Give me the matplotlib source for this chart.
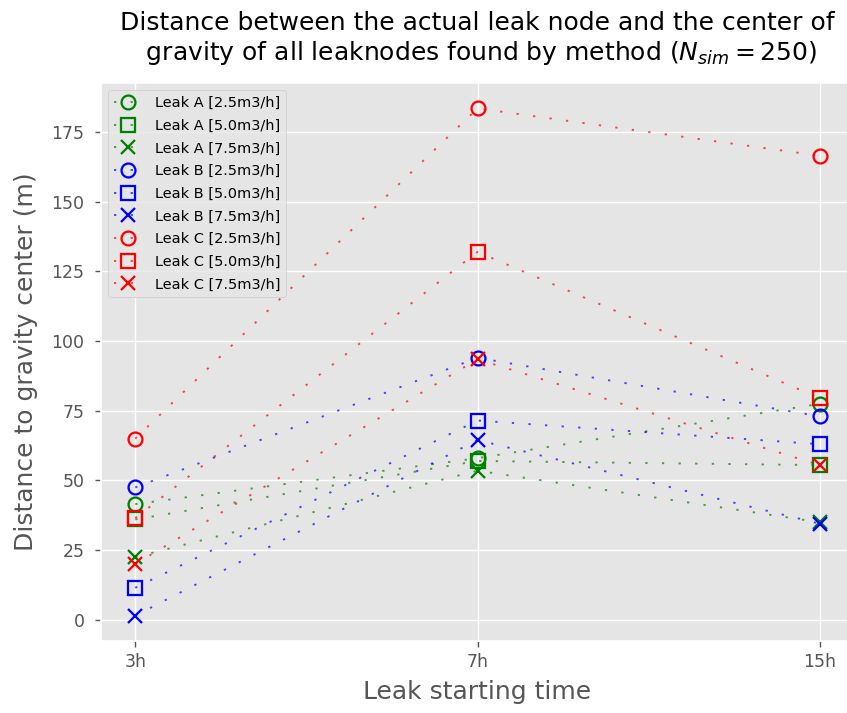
import matplotlib
matplotlib.use("Agg")
import matplotlib.pyplot as plt
from matplotlib.colors import to_rgba

plt.style.use("ggplot")

times = ["3h", "7h", "15h"]
rates = ["2.5", "5.0", "7.5"]

# distance (m) per leak and leak rate, one value per starting time
leak_a = [[41.5, 58.0, 77.5],
          [36.0, 57.0, 55.5],
          [22.5, 53.5, 35.0]]
leak_b = [[47.5, 94.0, 73.0],
          [11.5, 71.5, 63.0],
          [1.5, 64.5, 34.5]]
leak_c = [[65.0, 183.5, 166.5],
          [36.5, 132.0, 79.5],
          [20.0, 93.5, 55.5]]

leaks = [("A", leak_a, "g"), ("B", leak_b, "b"), ("C", leak_c, "r")]
markers = ["o", "s", "x"]

fig = plt.figure(figsize=(847 / 125, 713 / 125), dpi=125)
ax = fig.add_axes([101 / 847, 72 / 713, 753 / 847, 558 / 713])

for name, data, col in leaks:
    for rate, vals, m in zip(rates, data, markers):
        # faint dotted line, solid hollow markers
        line, = ax.plot(times, vals, color=to_rgba(col, 0.7), marker=m,
                        markersize=8, markerfacecolor="none",
                        markeredgecolor=col, markeredgewidth=1.3,
                        linestyle=":", linewidth=1.1,
                        label="Leak %s [%sm3/h]" % (name, rate))
        line.set_dashes((1.2, 7.5))

ax.set_title("Distance between the actual leak node and the center of\n"
             " gravity of all leaknodes found by method ($N_{sim} = 250$)",
             pad=13)
ax.set_xlabel("Leak starting time", fontsize=14.4, labelpad=5)
ax.set_ylabel("Distance to gravity center (m)", fontsize=14.4, labelpad=8)
ax.tick_params(axis="y", pad=6)
ax.legend(loc="upper left", fontsize="small", labelspacing=0.6)

fig.savefig("out.png", dpi=125)
